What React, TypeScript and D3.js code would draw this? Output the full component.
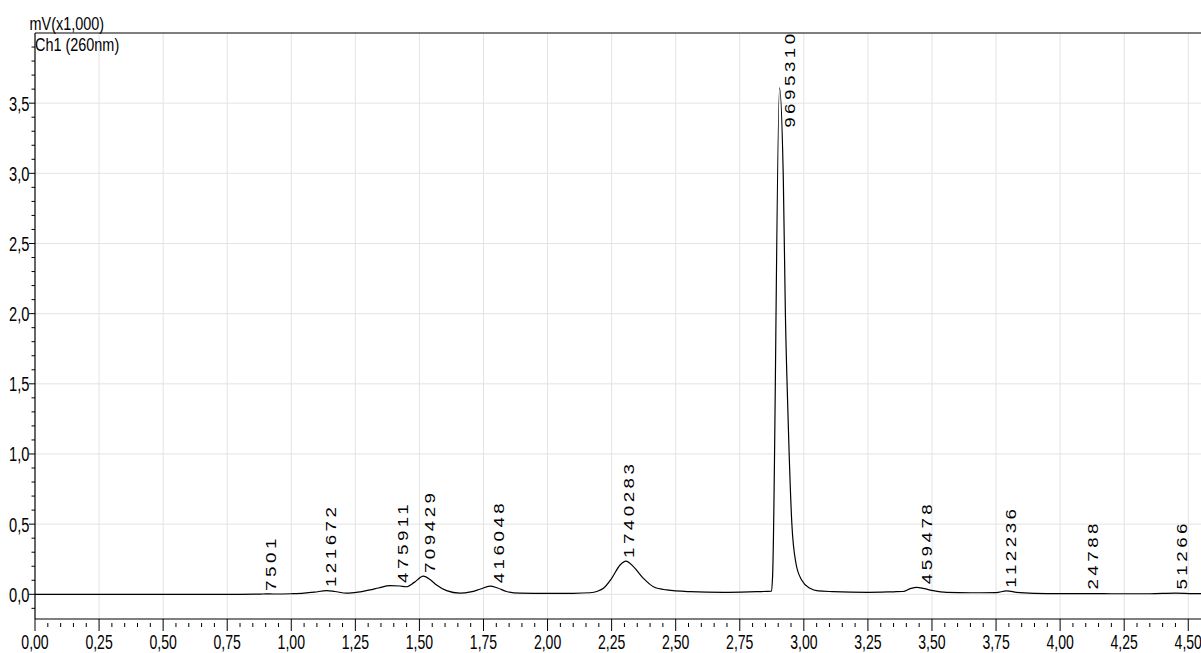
import React from "react";
import * as d3 from "d3";

// ---- data ----
const traceTime = [
  0.0, 0.8, 0.88, 0.9, 0.93, 1.0, 1.05, 1.09, 1.138, 1.17, 1.216, 1.26, 1.307, 1.34, 1.385, 1.424, 1.448,
  1.48, 1.515, 1.545, 1.567, 1.606, 1.658, 1.7, 1.736, 1.775, 1.805, 1.84, 1.892, 2.0, 2.1, 2.166, 2.195,
  2.218, 2.25, 2.283, 2.306, 2.335, 2.374, 2.413, 2.465, 2.556, 2.686, 2.816, 2.874, 2.878, 2.905, 2.92,
  2.928, 2.938, 2.953, 2.969, 2.992, 3.024, 3.056, 3.114, 3.25, 3.35, 3.387, 3.415, 3.44, 3.47, 3.505,
  3.557, 3.65, 3.75, 3.791, 3.83, 3.9, 4.0, 4.1, 4.2, 4.35, 4.45, 4.52, 4.55,
];
const traceValue = [
  0.0, 0.0, 0.001, 0.003, 0.002, 0.004, 0.008, 0.015, 0.026, 0.02, 0.008, 0.015, 0.031, 0.045, 0.062, 0.059, 0.054,
  0.085, 0.13, 0.1, 0.066, 0.026, 0.008, 0.017, 0.036, 0.058, 0.045, 0.02, 0.008, 0.006, 0.007, 0.011, 0.022,
  0.043, 0.114, 0.209, 0.237, 0.197, 0.114, 0.054, 0.031, 0.019, 0.014, 0.019, 0.022, 0.125, 3.61, 2.95,
  2.0, 1.29, 0.51, 0.223, 0.1, 0.043, 0.024, 0.019, 0.014, 0.018, 0.02, 0.04, 0.05, 0.04, 0.026,
  0.014, 0.011, 0.012, 0.024, 0.014, 0.007, 0.005, 0.005, 0.004, 0.004, 0.008, 0.005, 0.005,
];

const peakTime = [0.898, 1.131, 1.411, 1.519, 1.788, 2.295, 2.92, 3.456, 3.785, 4.104, 4.451];
const peakHeight = [0.003, 0.03, 0.06, 0.13, 0.057, 0.237, 3.61, 0.05, 0.026, 0.012, 0.012];
const peakArea = ["7501", "121672", "475911", "709429", "416048", "1740283", "9695310", "459478", "112236", "24788", "51266"];

const xMajorTicks = [0, 0.25, 0.5, 0.75, 1.0, 1.25, 1.5, 1.75, 2.0, 2.25, 2.5, 2.75, 3.0, 3.25, 3.5, 3.75, 4.0, 4.25, 4.5];
const yMajorTicks = [0, 0.5, 1.0, 1.5, 2.0, 2.5, 3.0, 3.5];

const W = 1201;
const H = 653;
const left = 35;
const top = 33;
const bottom = 619;

export default function App() {
  const x = d3.scaleLinear().domain([0, 4.55]).range([left, left + 4.55 * 256.28]);
  const y = d3.scaleLinear().domain([-0.176, 4.0]).range([bottom, top]);

  const pts: [number, number][] = traceTime.map((t, i) => [t, traceValue[i]]);
  const line = d3
    .line<[number, number]>()
    .x((d) => x(d[0]))
    .y((d) => y(d[1]))
    .curve(d3.curveMonotoneX);

  const xMinor = d3.range(0, 91).map((i) => i * 0.05).filter((v) => Math.round(v * 100) % 25 !== 0);
  const yMinor = d3.range(-1, 40).map((i) => i / 10).filter((v) => Math.round(v * 10) % 5 !== 0);

  const fmtX = (v: number) => v.toFixed(2).replace(".", ",");
  const fmtY = (v: number) => v.toFixed(1).replace(".", ",");

  const sans = "'Liberation Sans', Arial, sans-serif";
  const adv = 13.9;

  return (
    <svg
      width={W}
      height={H}
      style={{ position: "absolute", left: 0, top: 0, background: "#fff" }}
      xmlns="http://www.w3.org/2000/svg"
    >
      <rect x={0} y={0} width={W} height={H} fill="#fff" />
      {/* grid */}
      {xMajorTicks.slice(1).map((t) => (
        <line key={"gx" + t} x1={x(t)} x2={x(t)} y1={top} y2={bottom} stroke="#e3e3e3" strokeWidth={1} />
      ))}
      {yMajorTicks.map((t) => (
        <line key={"gy" + t} x1={left} x2={W} y1={y(t)} y2={y(t)} stroke="#e3e3e3" strokeWidth={1} />
      ))}
      {/* trace */}
      <path d={line(pts) || ""} fill="none" stroke="#000" strokeWidth={1.2} />
      {/* axes */}
      <line x1={left} x2={W} y1={top} y2={top} stroke="#000" strokeWidth={1.2} />
      <line x1={left} x2={W} y1={bottom} y2={bottom} stroke="#000" strokeWidth={1.2} />
      <line x1={left} x2={left} y1={top} y2={bottom} stroke="#000" strokeWidth={1.2} />
      {xMajorTicks.map((t) => (
        <line key={"xt" + t} x1={x(t)} x2={x(t)} y1={bottom} y2={bottom + 12} stroke="#000" strokeWidth={1} />
      ))}
      {xMinor.map((t) => (
        <line key={"xm" + t} x1={x(t)} x2={x(t)} y1={bottom + 4} y2={bottom + 8} stroke="#000" strokeWidth={1} />
      ))}
      {yMajorTicks.map((t) => (
        <line key={"yt" + t} x1={left - 6} x2={left} y1={y(t)} y2={y(t)} stroke="#000" strokeWidth={1} />
      ))}
      {yMinor.map((t) => (
        <line key={"ym" + t} x1={left - 3.5} x2={left} y1={y(t)} y2={y(t)} stroke="#000" strokeWidth={1} />
      ))}
      {/* tick labels */}
      {xMajorTicks.map((t) => (
        <text
          key={"xl" + t}
          transform={`translate(${x(t)},${649}) scale(0.78,1.1)`}
          textAnchor="middle"
          fontFamily={sans}
          fontSize={18}
          fill="#000"
        >
          {fmtX(t)}
        </text>
      ))}
      {yMajorTicks.map((t) => (
        <text
          key={"yl" + t}
          transform={`translate(${29.5},${y(t) + 7.5}) scale(0.7,1)`}
          textAnchor="end"
          fontFamily={sans}
          fontSize={21}
          fill="#000"
        >
          {fmtY(t)}
        </text>
      ))}
      {/* titles */}
      <text transform={`translate(29.5,29.5) scale(0.76,1)`} fontFamily={sans} fontSize={19} fill="#000">
        mV(x1,000)
      </text>
      <text transform={`translate(35,50.5) scale(0.76,1)`} fontFamily={sans} fontSize={19} fill="#000">
        Ch1 (260nm)
      </text>
      {/* peak labels */}
      {peakArea.map((s, i) => {
        const extent = (s.length - 1) * adv + 10.4;
        const by = Math.max(y(peakHeight[i]) - 3, top + 1 + extent);
        return (
          <text
            key={"pk" + i}
            transform={`translate(${x(peakTime[i]) + 11.2},${by}) rotate(-90) scale(1.25,1)`}
            fontFamily={sans}
            fontSize={15}
            letterSpacing={2.8}
            fill="#000"
          >
            {s}
          </text>
        );
      })}
    </svg>
  );
}
